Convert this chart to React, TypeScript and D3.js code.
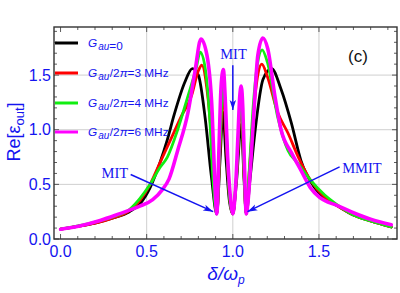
import React from "react";
import * as d3 from "d3";

// curves, [delta/omega_p, Re(eps_out)]
const g0: [number, number][] = [
  [0.0, 0.09], [0.1, 0.115], [0.2, 0.145], [0.3, 0.19], [0.4, 0.25], [0.46, 0.32],
  [0.52, 0.47], [0.575, 0.69], [0.62, 0.91], [0.66, 1.14], [0.72, 1.43], [0.765, 1.56],
  [0.8, 1.5], [0.84, 1.1], [0.875, 0.58], [0.907, 0.23], [0.925, 0.7], [0.943, 1.16],
  [0.96, 0.75], [0.98, 0.35], [1.0, 0.23], [1.02, 0.5], [1.049, 1.05], [1.065, 0.55],
  [1.078, 0.23], [1.1, 0.55], [1.13, 1.0], [1.175, 1.46], [1.225, 1.56], [1.28, 1.37],
  [1.34, 1.06], [1.395, 0.72], [1.475, 0.47], [1.535, 0.37], [1.6, 0.31], [1.7, 0.22],
  [1.8, 0.165], [1.92, 0.11],
];

const g3: [number, number][] = [
  [0.0, 0.09], [0.1, 0.115], [0.2, 0.145], [0.3, 0.19], [0.4, 0.26], [0.46, 0.35],
  [0.52, 0.5], [0.575, 0.69], [0.645, 0.93], [0.7, 1.12], [0.76, 1.31], [0.8, 1.54],
  [0.82, 1.59], [0.85, 1.37], [0.88, 0.84], [0.895, 0.44], [0.907, 0.23], [0.925, 0.8],
  [0.945, 1.35], [0.96, 0.95], [0.98, 0.4], [1.0, 0.23], [1.02, 0.55], [1.049, 1.25],
  [1.065, 0.6], [1.078, 0.23], [1.095, 0.6], [1.12, 1.15], [1.145, 1.5], [1.168, 1.6],
  [1.2, 1.49], [1.26, 1.16], [1.32, 0.97], [1.38, 0.75], [1.45, 0.54], [1.535, 0.38],
  [1.6, 0.31], [1.7, 0.22], [1.8, 0.165], [1.92, 0.11],
];

const g4: [number, number][] = [
  [0.0, 0.09], [0.1, 0.12], [0.2, 0.155], [0.3, 0.2], [0.4, 0.27], [0.46, 0.37],
  [0.52, 0.5], [0.575, 0.65], [0.62, 0.75], [0.68, 1.0], [0.74, 1.31], [0.79, 1.58],
  [0.81, 1.71], [0.84, 1.56], [0.87, 1.0], [0.885, 0.54], [0.907, 0.23], [0.925, 0.85],
  [0.945, 1.45], [0.96, 1.05], [0.98, 0.4], [1.0, 0.23], [1.02, 0.55], [1.049, 1.32],
  [1.065, 0.62], [1.078, 0.23], [1.095, 0.62], [1.12, 1.25], [1.145, 1.62], [1.17, 1.73],
  [1.2, 1.62], [1.26, 1.12], [1.32, 0.81], [1.38, 0.69], [1.45, 0.54], [1.535, 0.4],
  [1.6, 0.32], [1.7, 0.22], [1.8, 0.165], [1.92, 0.11],
];

const g6: [number, number][] = [
  [0.0, 0.09], [0.11, 0.12], [0.23, 0.17], [0.34, 0.23], [0.46, 0.3], [0.535, 0.36],
  [0.59, 0.45], [0.63, 0.55], [0.68, 0.81], [0.74, 1.16], [0.78, 1.53], [0.815, 1.83],
  [0.85, 1.68], [0.88, 1.16], [0.895, 0.54], [0.907, 0.23], [0.92, 0.85], [0.932, 1.4],
  [0.945, 1.55], [0.957, 1.25], [0.97, 0.75], [0.985, 0.4], [1.0, 0.23], [1.015, 0.45],
  [1.03, 0.95], [1.04, 1.3], [1.049, 1.4], [1.058, 1.2], [1.068, 0.65], [1.078, 0.23],
  [1.088, 0.34], [1.105, 0.72], [1.122, 1.15], [1.145, 1.68], [1.174, 1.84], [1.203, 1.74],
  [1.244, 1.31], [1.28, 1.0], [1.34, 0.79], [1.395, 0.63], [1.45, 0.47], [1.505, 0.38],
  [1.535, 0.35], [1.6, 0.31], [1.7, 0.24], [1.8, 0.18], [1.92, 0.13],
];

// legend suffix after "G_au": [slash part, rest]
const seriesNames: [string, string][] = [
  ["", "=0"],
  ["/2", "=3 MHz"],
  ["/2", "=4 MHz"],
  ["/2", "=6 MHz"],
];
const seriesColors = ["#000000", "#ff0000", "#11ee11", "#ff00ff"];
const seriesData = [g0, g3, g4, g6];

const xTicks = [0, 0.5, 1.0, 1.5];
const yTicks = [0, 0.5, 1.0, 1.5];

const blue = "#1414f0";

const W = 400;
const H = 293;
const plot = { left: 54, right: 397, top: 27, bottom: 239 };

const App = () => {
  const x = d3.scaleLinear().domain([-0.038, 1.953]).range([plot.left, plot.right]);
  const y = d3.scaleLinear().domain([0, 1.94]).range([plot.bottom, plot.top]);

  const line = d3
    .line<[number, number]>()
    .x((d) => x(d[0]))
    .y((d) => y(d[1]))
    .curve(d3.curveMonotoneX);

  // minor ticks every 0.1
  const minor = d3.range(0, 1.95, 0.1).map((v) => +v.toFixed(2));
  const isMajor = (v: number) => Math.abs(v * 2 - Math.round(v * 2)) < 1e-6;

  // annotation arrows (data coordinates)
  const arrows = [
    { from: [1.0, 1.59], to: [1.0, 1.18] },
    { from: [0.407, 0.59], to: [0.886, 0.25] },
    { from: [1.62, 0.66], to: [1.085, 0.25] },
  ];

  const arrowHead = (fx: number, fy: number, tx: number, ty: number) => {
    const ang = Math.atan2(ty - fy, tx - fx);
    const len = 10;
    const half = 3.2;
    const bx = tx - len * Math.cos(ang);
    const by = ty - len * Math.sin(ang);
    const px = -Math.sin(ang) * half;
    const py = Math.cos(ang) * half;
    return `M${tx},${ty}L${bx + px},${by + py}L${bx + 2.5 * Math.cos(ang)},${by + 2.5 * Math.sin(ang)}L${bx - px},${by - py}Z`;
  };

  const legendY = [43, 73, 103, 132];

  return (
    <svg
      width={W}
      height={H}
      style={{ position: "absolute", left: 0, top: 0, background: "#fff" }}
      fontFamily="'Liberation Sans', Arial, sans-serif"
    >
      <defs>
        <clipPath id="plotclip">
          <rect x={plot.left} y={plot.top} width={plot.right - plot.left} height={plot.bottom - plot.top} />
        </clipPath>
      </defs>

      {/* grid */}
      {xTicks.slice(1).map((t) => (
        <line key={"gx" + t} x1={x(t)} x2={x(t)} y1={plot.top} y2={plot.bottom} stroke="#cfcfcf" strokeWidth={1} />
      ))}
      {yTicks.slice(1).map((t) => (
        <line key={"gy" + t} x1={plot.left} x2={plot.right} y1={y(t)} y2={y(t)} stroke="#cfcfcf" strokeWidth={1} />
      ))}

      {/* curves */}
      <g clipPath="url(#plotclip)">
        {seriesData.map((d, i) => (
          <path
            key={i}
            d={line(d) || ""}
            fill="none"
            stroke={seriesColors[i]}
            strokeWidth={i === 3 ? 3.6 : 2.8}
            strokeLinejoin="round"
            strokeLinecap="round"
          />
        ))}
      </g>

      {/* frame and ticks */}
      <rect
        x={plot.left}
        y={plot.top}
        width={plot.right - plot.left}
        height={plot.bottom - plot.top}
        fill="none"
        stroke="#333"
        strokeWidth={1.4}
      />
      {minor.map((t) => {
        const l = isMajor(t) ? 5 : 3;
        return (
          <g key={"xt" + t} stroke="#333" strokeWidth={0.8}>
            <line x1={x(t)} x2={x(t)} y1={plot.bottom} y2={plot.bottom - l} />
            <line x1={x(t)} x2={x(t)} y1={plot.top} y2={plot.top + l} />
          </g>
        );
      })}
      {minor.map((t) => {
        const l = isMajor(t) ? 5 : 3;
        return (
          <g key={"yt" + t} stroke="#333" strokeWidth={0.8}>
            <line x1={plot.left} x2={plot.left + l} y1={y(t)} y2={y(t)} />
            <line x1={plot.right} x2={plot.right - l} y1={y(t)} y2={y(t)} />
          </g>
        );
      })}

      {/* tick labels */}
      {xTicks.map((t) => (
        <text key={"xl" + t} x={x(t)} y={257} textAnchor="middle" fontSize={16} fill={blue}>
          {t.toFixed(1)}
        </text>
      ))}
      {yTicks.map((t) => (
        <text key={"yl" + t} x={51} y={y(t)} dy="0.36em" textAnchor="end" fontSize={16} fill={blue}>
          {t.toFixed(1)}
        </text>
      ))}

      {/* axis titles */}
      <text transform="translate(20,132) rotate(-90)" textAnchor="middle" fontSize={18} fill={blue}>
        Re[ε
        <tspan fontSize={13} dy={4}>out</tspan>
        <tspan dy={-4}>]</tspan>
      </text>
      <text x={226} y={280} textAnchor="middle" fontSize={19} fill={blue} fontStyle="italic">
        δ/ω
        <tspan fontSize={12} dy={4}>p</tspan>
      </text>

      <text x={358} y={62} textAnchor="middle" fontSize={17} fill="#111">
        (c)
      </text>

      {/* legend */}
      {seriesNames.map(([slash, rest], i) => (
        <g key={"lg" + i}>
          <line x1={55} x2={78} y1={legendY[i]} y2={legendY[i]} stroke={seriesColors[i]} strokeWidth={3} />
          <text x={88} y={legendY[i]} dy="0.36em" fontSize={11.8} fill={blue}>
            <tspan fontStyle="italic">G</tspan>
            <tspan fontStyle="italic" fontSize={10} dx={1} dy={2.5}>au</tspan>
            <tspan dy={-2.5} dx={0.5}>{slash}</tspan>
            {slash ? <tspan fontStyle="italic">π</tspan> : null}
            <tspan>{rest}</tspan>
          </text>
        </g>
      ))}

      {/* annotations */}
      <g fontFamily="'Liberation Serif', 'Times New Roman', serif" fontSize={14.5} fill={blue}>
        <text x={x(1.004)} y={59} textAnchor="middle">MIT</text>
        <text x={x(0.315)} y={178} textAnchor="middle">MIT</text>
        <text x={x(1.635)} y={173} textAnchor="start">MMIT</text>
      </g>
      {arrows.map((a, i) => {
        const fx = x(a.from[0]);
        const fy = y(a.from[1]);
        const tx = x(a.to[0]);
        const ty = y(a.to[1]);
        return (
          <g key={"ar" + i}>
            <line x1={fx} y1={fy} x2={tx} y2={ty} stroke={blue} strokeWidth={1.5} />
            <path d={arrowHead(fx, fy, tx, ty)} fill={blue} />
          </g>
        );
      })}
    </svg>
  );
};

export default App;
